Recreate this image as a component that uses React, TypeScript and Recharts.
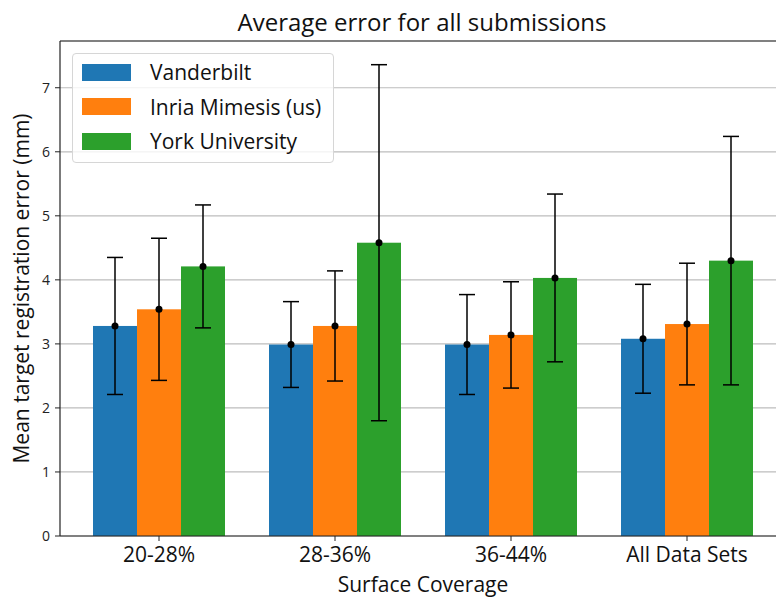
import React from 'react';
import { ComposedChart, Bar, XAxis, YAxis, CartesianGrid, ErrorBar, Legend, ReferenceLine } from 'recharts';

const categories = ['20-28%', '28-36%', '36-44%', 'All Data Sets'];
const vanderbilt = [3.28, 2.99, 2.99, 3.08];
const vanderbiltErr = [1.07, 0.67, 0.78, 0.85];
const inria = [3.54, 3.28, 3.14, 3.31];
const inriaErr = [1.11, 0.86, 0.83, 0.95];
const york = [4.21, 4.58, 4.03, 4.3];
const yorkErr = [0.96, 2.78, 1.31, 1.94];
const seriesOrder = ['vanderbilt', 'inria', 'york'];
const yTicks = [0, 1, 2, 3, 4, 5, 6, 7];
const yMax = 7.73;

const FONT = '"Open Sans", "Noto Sans", sans-serif';

const data = categories.map((c, i) => ({
    category: c,
    vanderbilt: vanderbilt[i],
    vanderbiltErr: vanderbiltErr[i],
    inria: inria[i],
    inriaErr: inriaErr[i],
    york: york[i],
    yorkErr: yorkErr[i],
}));

// bar plus the black mean marker on its top edge
const BarWithDot = (props: any) => {
    const { x, y, width, height, fill } = props;
    return (
        <g>
            <rect x={x} y={y} width={width} height={height} fill={fill} />
            <circle cx={x + width / 2} cy={y} r={3.5} fill="#000" />
        </g>
    );
};

const LegendBox = (props: any) => {
    const items = [...(props.payload || [])].sort(
        (a: any, b: any) => seriesOrder.indexOf(a.dataKey) - seriesOrder.indexOf(b.dataKey)
    );
    return (
        <div
            style={{
                boxSizing: 'border-box',
                width: 262,
                height: 110,
                border: '1px solid #d6d6d6',
                borderRadius: 4,
                background: 'rgba(255,255,255,0.8)',
                paddingTop: 1,
                fontFamily: FONT,
            }}
        >
            {items.map((p: any) => (
                <div key={p.value} style={{ display: 'flex', alignItems: 'center', height: 34.5 }}>
                    <div style={{ width: 49, height: 17, marginLeft: 9, background: p.color }} />
                    <span style={{ marginLeft: 19, fontSize: 21, color: '#111' }}>{p.value}</span>
                </div>
            ))}
        </div>
    );
};

export default function App() {
    return (
        <div style={{ position: 'absolute', left: 0, top: 0, width: 776, height: 599, overflow: 'hidden', background: '#fff' }}>
            <ComposedChart
                width={786}
                height={599}
                data={data}
                margin={{ top: 41, right: 0, bottom: 0, left: 0 }}
                barCategoryGap="12.5%"
                barGap={0}
            >
                <XAxis
                    dataKey="category"
                    padding={{ left: 11, right: 11 }}
                    height={63}
                    tickSize={5}
                    tickMargin={6}
                    axisLine={{ stroke: '#222', strokeWidth: 1.2 }}
                    tickLine={{ stroke: '#222' }}
                    tick={{ fontSize: 21, fill: '#111', fontFamily: FONT }}
                    label={{ value: 'Surface Coverage', position: 'insideBottom', offset: 7, fontSize: 21, fill: '#111', fontFamily: FONT }}
                />
                <YAxis
                    type="number"
                    domain={[0, yMax]}
                    ticks={yTicks}
                    width={60}
                    tickSize={5}
                    tickMargin={5}
                    axisLine={{ stroke: '#222', strokeWidth: 1.2 }}
                    tickLine={{ stroke: '#222' }}
                    tick={{ fontSize: 14, fill: '#222', fontFamily: FONT }}
                    label={{ value: 'Mean target registration error (mm)', angle: -90, position: 'center', dx: -8, fontSize: 21, fill: '#111', fontFamily: FONT }}
                />
                <Bar dataKey="vanderbilt" name="Vanderbilt" fill="#1f77b4" shape={<BarWithDot />} isAnimationActive={false}>
                    <ErrorBar dataKey="vanderbiltErr" width={8} stroke="#000" strokeWidth={1.5} />
                </Bar>
                <Bar dataKey="inria" name="Inria Mimesis (us)" fill="#ff7f0e" shape={<BarWithDot />} isAnimationActive={false}>
                    <ErrorBar dataKey="inriaErr" width={8} stroke="#000" strokeWidth={1.5} />
                </Bar>
                <Bar dataKey="york" name="York University" fill="#2ca02c" shape={<BarWithDot />} isAnimationActive={false}>
                    <ErrorBar dataKey="yorkErr" width={8} stroke="#000" strokeWidth={1.5} />
                </Bar>
                <CartesianGrid vertical={false} stroke="#bdbdbd" strokeWidth={1.2} />
                <ReferenceLine y={yMax} stroke="#222" strokeWidth={1.2} />
                <Legend
                    layout="vertical"
                    align="center"
                    verticalAlign="middle"
                    content={<LegendBox />}
                    wrapperStyle={{ left: 72, top: 53, width: 262, height: 110 }}
                />
            </ComposedChart>
            <svg width={776} height={40} style={{ position: 'absolute', left: 0, top: 0, pointerEvents: 'none' }}>
                <text x={422} y={30.5} textAnchor="middle" fontSize={24} fontFamily={FONT} fill="#111">
                    Average error for all submissions
                </text>
            </svg>
        </div>
    );
}
